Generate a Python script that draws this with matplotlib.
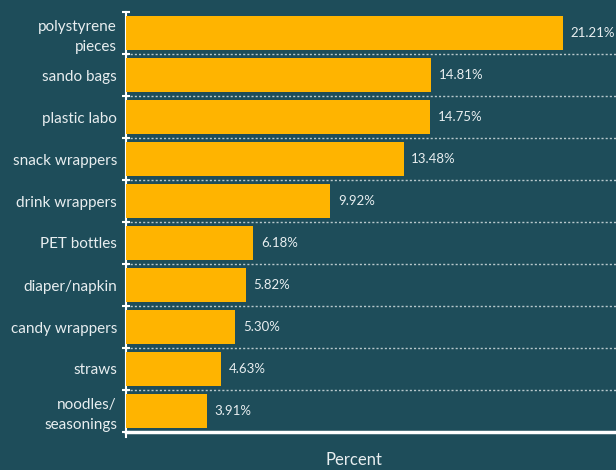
import matplotlib.pyplot as plt
import numpy as np

categories = ["polystyrene\npieces", "sando bags", "plastic labo", "snack wrappers",
              "drink wrappers", "PET bottles", "diaper/napkin", "candy wrappers",
              "straws", "noodles/\nseasonings"]
values = [21.21, 14.81, 14.75, 13.48, 9.92, 6.18, 5.82, 5.30, 4.63, 3.91]
value_labels = ["21.21%", "14.81%", "14.75%", "13.48%", "9.92%", "6.18%",
                "5.82%", "5.30%", "4.63%", "3.91%"]

bg = "#1e4d5a"
bar_color = "#ffb400"
plt.rcParams['font.family'] = ['Lato', 'DejaVu Sans']

fig = plt.figure(figsize=[6.16, 4.70], dpi=100, facecolor=bg)
ax = fig.add_axes([126/616, 38/470, 490/616, 420/470], facecolor=bg)

n = len(categories)
y = np.arange(n)
ax.barh(y, values, height=0.8, color=bar_color, zorder=3)
for yi, v, lab in zip(y, values, value_labels):
    ax.text(v + 0.38, yi, lab, color="#e8eef0", fontsize=9.5, va="center", ha="left")

ax.set_xlim(0, 23.8)
ax.set_ylim(n - 0.5, -0.5)

# dotted separators between categories
ax.hlines(np.arange(0.5, n - 1), 0, 23.8, color="#b8c8cc",
          linestyle=(0, (1.5, 1.5)), linewidth=1, zorder=1)

ax.set_yticks(y)
ax.set_yticklabels(categories, fontsize=11, color="#e8eef0", ha="right",
                   multialignment="right", linespacing=1.5)
ax.tick_params(axis="y", which="major", length=0, pad=6.5)
ax.set_yticks(np.arange(-0.5, n), minor=True)
ax.tick_params(axis="y", which="minor", direction="inout", length=6, width=1.5, color="white")
ax.set_xticks([])

for s in ["top", "right"]:
    ax.spines[s].set_visible(False)
ax.spines["left"].set_color("white")
ax.spines["left"].set_linewidth(1.5)
ax.spines["left"].set_bounds(n - 0.5 + 0.12, -0.5)
ax.spines["bottom"].set_color("white")
ax.spines["bottom"].set_linewidth(2.5)

fig.text(354/616, 1 - 460/470, "Percent", color="#e8eef0", fontsize=12, ha="center", va="center")

fig.savefig("out.png", dpi=100, facecolor=bg)
